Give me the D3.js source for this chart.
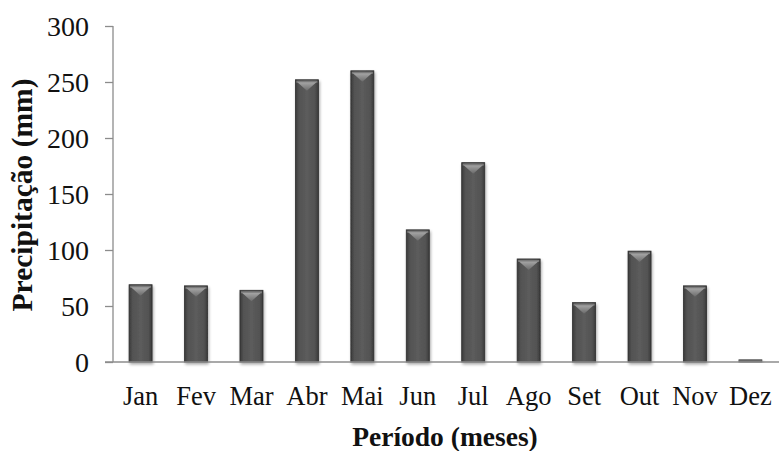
<!DOCTYPE html>
<html><head><meta charset="utf-8">
<script src="https://cdn.jsdelivr.net/npm/d3@7"></script>
<style>html,body{margin:0;padding:0;background:#fff;}svg{display:block;}</style>
</head><body>
<script>
const categories = ["Jan","Fev","Mar","Abr","Mai","Jun","Jul","Ago","Set","Out","Nov","Dez"];
const precip = [69, 68, 64, 252, 260, 118, 178, 92, 53, 99, 68, 2];
const yTicks = [0, 50, 100, 150, 200, 250, 300];
const yTitle = "Precipitação (mm)";
const xTitle = "Período (meses)";

const W = 779, H = 451;
const svg = d3.select("body").append("svg").attr("width", W).attr("height", H);
const defs = svg.append("defs");

const g1 = defs.append("linearGradient").attr("id","barG").attr("x1","0").attr("x2","1").attr("y1","0").attr("y2","0");
g1.append("stop").attr("offset","0").attr("stop-color","#3a3a3a");
g1.append("stop").attr("offset","0.15").attr("stop-color","#525252");
g1.append("stop").attr("offset","0.5").attr("stop-color","#5c5c5c");
g1.append("stop").attr("offset","0.85").attr("stop-color","#525252");
g1.append("stop").attr("offset","1").attr("stop-color","#3a3a3a");

const g2 = defs.append("linearGradient").attr("id","triG").attr("x1","0").attr("x2","0").attr("y1","0").attr("y2","1");
g2.append("stop").attr("offset","0").attr("stop-color","#a6a6a6");
g2.append("stop").attr("offset","1").attr("stop-color","#6a6a6a");

const f = defs.append("filter").attr("id","sh").attr("x","-30%").attr("y","-10%").attr("width","160%").attr("height","130%");
f.append("feGaussianBlur").attr("in","SourceAlpha").attr("stdDeviation","1.6");
f.append("feOffset").attr("dx","0.5").attr("dy","1.5").attr("result","b");
f.append("feComponentTransfer").append("feFuncA").attr("type","linear").attr("slope","0.35");
const fm = f.append("feMerge");
fm.append("feMergeNode");
fm.append("feMergeNode").attr("in","SourceGraphic");

const x = d3.scaleBand().domain(categories).range([113, 778]).paddingInner(0.585).paddingOuter(0.29);
const y = d3.scaleLinear().domain([0, 300]).range([362, 26]);

// bars
const bars = svg.append("g");
categories.forEach((c, i) => {
  const v = precip[i];
  const bx = x(c), bw = x.bandwidth(), by = y(v), bh = y(0) - y(v);
  const grp = bars.append("g").attr("filter","url(#sh)");
  grp.append("rect").attr("x", bx).attr("y", by).attr("width", bw).attr("height", bh)
    .attr("fill","url(#barG)").attr("stroke","#2e2e2e").attr("stroke-width",0.8);
  if (bh > 12) {
    grp.append("rect").attr("x", bx+1).attr("y", by+1).attr("width", bw-2).attr("height", 2)
      .attr("fill","#7a7a7a");
    grp.append("path")
      .attr("d", `M${bx+2},${by+2.5} L${bx+bw-2},${by+2.5} L${bx+bw/2},${by+11} Z`)
      .attr("fill","url(#triG)");
  } else {
    grp.select("rect").attr("fill","#6a6a6a").attr("stroke","#555");
  }
});

// y axis
const yAxis = d3.axisLeft(y).tickValues(yTicks).tickSize(8).tickPadding(16);
const ya = svg.append("g").attr("transform","translate(113,0)").call(yAxis);
ya.select(".domain").attr("stroke","#8c8c8c").attr("stroke-width",1.3).attr("d","M0,26V362");
ya.selectAll(".tick line").attr("stroke","#8c8c8c").attr("stroke-width",1.3);
ya.selectAll(".tick text").attr("font-family","'Liberation Serif', serif").attr("font-size",28).attr("fill","#111").attr("dy","0.34em");

// x axis
const xAxis = d3.axisBottom(x).tickSize(0).tickPadding(43);
const xa = svg.append("g").attr("transform","translate(0,362)").call(xAxis);
xa.select(".domain").attr("stroke","#8c8c8c").attr("stroke-width",1.3).attr("d","M105,0H779");
xa.selectAll(".tick text").attr("font-family","'Liberation Serif', serif").attr("font-size",26.5).attr("fill","#111").attr("dy","0");

// titles
svg.append("text").attr("x", 445).attr("y", 446).attr("text-anchor","middle")
  .attr("font-family","'Liberation Serif', serif").attr("font-weight","bold").attr("font-size",27.5).attr("fill","#111")
  .text(xTitle);
svg.append("text").attr("transform","translate(32,195) rotate(-90)").attr("text-anchor","middle")
  .attr("font-family","'Liberation Serif', serif").attr("font-weight","bold").attr("font-size",29.5).attr("fill","#111")
  .text(yTitle);
</script>
</body></html>
